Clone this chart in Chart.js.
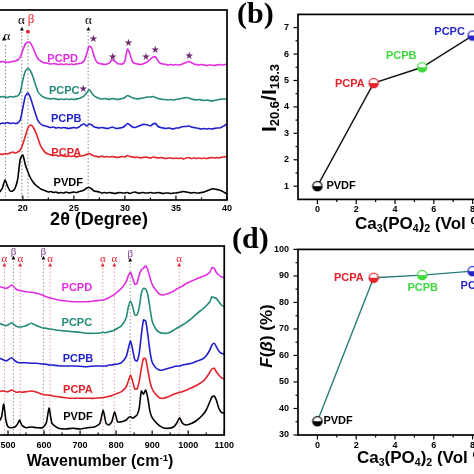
<!DOCTYPE html>
<html>
<head>
<meta charset="utf-8">
<script src="https://cdn.jsdelivr.net/npm/chart.js@4.4.1/dist/chart.umd.min.js"></script>
<style>
  html, body { margin: 0; padding: 0; background: #fff; }
  body { width: 474px; height: 474px; position: relative; overflow: hidden; font-family: "Liberation Sans", Arial, sans-serif; }
  canvas { position: absolute; }
  .t { position: absolute; font-weight: bold; color: #000; white-space: nowrap; line-height: 1; }
  .lt { font-family: "Liberation Serif", "Times New Roman", serif; font-size: 30px; }
  sub { font-size: 0.62em; vertical-align: -0.3em; line-height: 0; }
  sup { font-size: 0.6em; vertical-align: 0.55em; line-height: 0; }
</style>
</head>
<body>
<canvas id="xrdChart" width="257" height="220" style="left:-18px;top:0"></canvas>
<canvas id="ratioChart" width="300" height="226" style="left:230px;top:0"></canvas>
<canvas id="ramanChart" width="249" height="222" style="left:-10px;top:235px"></canvas>
<canvas id="fractionChart" width="300" height="225" style="left:230px;top:235px"></canvas>

<div class="t" style="left:99px;top:219px;font-size:18px;transform:translate(-50%,-50%)">2θ (Degree)</div>
<div class="t" style="left:100px;top:461px;font-size:16px;transform:translate(-50%,-50%)">Wavenumber (cm<sup>-1</sup>)</div>
<div class="t" style="left:355px;top:223px;font-size:17px;transform:translateY(-50%)">Ca<sub>3</sub>(PO<sub>4</sub>)<sub>2</sub> (Vol %)</div>
<div class="t" style="left:357px;top:457px;font-size:17px;transform:translateY(-50%)">Ca<sub>3</sub>(PO<sub>4</sub>)<sub>2</sub> (Vol %)</div>
<div class="t" style="left:268px;top:98px;font-size:21px;transform:translate(-50%,-50%) rotate(-90deg)">I<sub>20.6</sub>/I<sub>18.3</sub></div>
<div class="t" style="left:266px;top:336px;font-size:17px;transform:translate(-50%,-50%) rotate(-90deg)"><i>F</i>(<i>β</i>) (%)</div>
<div class="t lt" style="left:237px;top:-2px">(b)</div>
<div class="t lt" style="left:232px;top:223px">(d)</div>

<script>
// ---- (a) XRD ----
var xrdAngles = [
  17.75, 18, 18.25, 18.5, 18.75, 19, 19.25, 19.5, 19.75, 20,
  20.25, 20.5, 20.75, 21, 21.25, 21.5, 21.75, 22, 22.25, 22.5,
  22.75, 23, 23.25, 23.5, 23.75, 24, 24.25, 24.5, 24.75, 25,
  25.25, 25.5, 25.75, 26, 26.25, 26.5, 26.75, 27, 27.25, 27.5,
  27.75, 28, 28.25, 28.5, 28.75, 29, 29.25, 29.5, 29.75, 30,
  30.25, 30.5, 30.75, 31, 31.25, 31.5, 31.75, 32, 32.25, 32.5,
  32.75, 33, 33.25, 33.5, 33.75, 34, 34.25, 34.5, 34.75, 35,
  35.25, 35.5, 35.75, 36, 36.25, 36.5, 36.75, 37, 37.25, 37.5,
  37.75, 38, 38.25, 38.5, 38.75, 39, 39.25, 39.5, 39.75, 40
];
var xrdPVDF = [
  8, 12, 20, 14, 9, 9, 12, 21, 41, 45,
  35, 28, 22, 18, 15, 13, 11, 10, 9, 8,
  8.5, 7.5, 8, 7, 7.5, 7, 8, 7, 7.5, 8,
  7.5, 8.5, 9, 10, 12, 12.5, 11, 9, 8.5, 8,
  7, 7.5, 7, 7.5, 7, 6.5, 7, 7.5, 7, 7,
  7.5, 6.5, 7.5, 8, 7, 7, 7.5, 7, 7, 7.5,
  7, 7, 7.5, 7, 6.5, 7, 7, 6.5, 7, 7,
  7.5, 8, 8.5, 8, 7.5, 7, 7.5, 7, 7, 7.5,
  8, 9, 10, 11, 11, 10.5, 10, 9, 7.5, 6
];
var xrdPCPA = [
  46, 45.5, 46.5, 46, 47, 48, 47, 48, 50, 56,
  64, 72, 75, 73, 68, 61, 54, 50, 47, 46,
  45, 44.5, 45, 44, 44.5, 44, 43.5, 44, 43.5, 44,
  43, 44, 44, 44.5, 45.5, 46.5, 45, 44, 43.5, 43,
  44, 43, 43.5, 43, 43.5, 43, 42.5, 43, 43.5, 43,
  44.5, 43.5, 43, 42.5, 43, 42, 42.5, 43, 42.5, 42,
  43, 42.5, 42, 42.5, 42, 41.5, 42, 42, 41.5, 42,
  41.5, 42, 41, 42, 42.5, 41.5, 42, 41.5, 42, 41.5,
  42, 41.5, 42, 42.5, 42, 42.5, 42, 43, 43, 43.5
];
var xrdPCPB = [
  76, 77, 76.5, 77.5, 76.5, 77, 76.5, 77, 80, 92,
  104, 107, 102, 94, 86, 79, 76, 74.5, 74, 73,
  72.5, 73, 72, 72.5, 72, 72.5, 72, 71.5, 72, 72.5,
  72, 73, 75, 76, 74, 76, 75, 73, 72.5, 72,
  72.5, 72, 71.5, 72, 73, 72, 71.5, 72, 72.5, 74,
  76.5, 75, 73, 72.5, 73.5, 74.5, 75.5, 75.5, 75, 74,
  76, 76.5, 73.5, 72.5, 72, 71.5, 72, 71.5, 71, 72,
  72, 73, 73.5, 73.5, 74, 73, 72.5, 72, 71.5, 71,
  71.5, 71, 71.5, 71, 71.5, 72, 72, 73, 74.5, 76
];
var xrdPCPC = [
  103, 103.5, 103, 102.5, 103.5, 103, 103.5, 104, 108, 120,
  129, 131.5, 129, 123, 115, 108, 105, 103, 102, 101.5,
  101, 101.5, 101, 100.5, 101, 100.5, 101, 100.5, 101, 100.5,
  101, 101.5, 102.5, 104, 107, 110.5, 107, 104, 102.5, 101.5,
  101, 101.5, 101, 100.5, 101.5, 101, 100.5, 101, 101.5, 102.5,
  104.5, 103.5, 102, 101.5, 101, 101.5, 102, 102.5, 103, 103,
  103.5, 102.5, 101.5, 101, 100.5, 100.5, 100, 100.5, 100, 100.5,
  101, 101.5, 102, 102.5, 102, 101, 100.5, 100, 100.5, 100,
  99.5, 100, 99.5, 99, 99.5, 100, 100.5, 101, 101, 101
];
var xrdPCPD = [
  138, 138.5, 138, 137.5, 138, 138.5, 139, 140, 143, 150,
  156, 158, 157, 152, 146, 141, 139, 137.5, 137, 136.5,
  136, 136.5, 136, 135.5, 136, 135.5, 136, 135.5, 136, 135.5,
  136, 136.5, 137, 139, 146, 154, 152, 143, 138, 136.5,
  136, 135.5, 136, 137, 140.5, 139, 136.5, 136, 136, 139,
  151, 146, 138, 136.5, 136, 135.5, 136, 137, 138.5, 141,
  143, 143, 139, 136.5, 136, 135.5, 135, 135.5, 135, 135.5,
  135, 135.5, 136.5, 137.5, 138.5, 137.5, 136, 135.5, 135, 135.5,
  135, 134.5, 135, 135, 134.5, 135, 135.5, 135, 135.5, 135.5
];
var thetaTicks = [20, 25, 30, 35, 40];
var thetaMinorTicks = [17.5, 22.5, 27.5, 32.5, 37.5];

// ---- (c) Raman / IR ----
var ramanWavenumbers = [
  476, 482, 488, 494, 500, 510, 520, 526,
  532, 538, 550, 565, 580, 595, 606, 614,
  622, 640, 660, 680, 700, 720, 740, 755,
  764, 772, 780, 788, 796, 804, 815, 828,
  834, 840, 846, 852, 858, 864, 870, 876,
  882, 888, 894, 900, 910, 920, 930, 945,
  960, 968, 976, 984, 995, 1010, 1025, 1040,
  1050, 1060, 1066, 1072, 1078, 1085, 1092, 1100
];
var ramanPVDF = [
  14, 18, 31, 15, 8.3, 7.3, 8.3, 10.7,
  15, 10, 7.3, 8, 7.3, 7.3, 11.7, 27.3,
  11.7, 6.7, 6, 6.7, 6, 7.3, 8, 11.7,
  25, 11.7, 10, 13.3, 23.3, 13.3, 13.3, 15,
  17.3, 18.3, 16.7, 18.3, 20, 26.7, 44, 40.7,
  45, 36.7, 23.3, 17.3, 12.7, 9.3, 7.3, 6.7,
  8.3, 11.7, 17.3, 11.7, 10, 11.7, 15, 20,
  25, 33.3, 38.3, 39, 35, 26.7, 22.7, 21.7
];
var ramanPCPA = [
  43.3, 44, 44, 43.3, 43.3, 45, 43.3, 42.7,
  43.3, 42.7, 43.3, 44, 42.7, 40.7, 40, 40,
  39.3, 38.3, 37.3, 36.7, 36.7, 36.7, 36.7, 37.3,
  37.3, 38, 38.7, 39.3, 40.7, 41.7, 43.3, 48.3,
  54, 60, 53.3, 46, 46, 53.3, 66.7, 76.7,
  76, 65, 53.3, 46, 40.7, 37.3, 36.7, 38.3,
  40.7, 41.7, 42.7, 43.3, 45, 47.3, 50, 53.3,
  57.3, 62.7, 66, 66.7, 63.3, 60, 57.3, 56
];
var ramanPCPB = [
  76.7, 76, 75, 74, 75, 77.3, 74, 72.7,
  72.3, 72.3, 72.3, 71.7, 71.7, 71, 70.7, 70,
  70, 69.3, 69, 69, 68.7, 68.3, 69, 69,
  69, 69, 70, 70, 70.7, 71, 72.3, 78.3,
  86.7, 94, 85, 75, 74, 81.7, 100, 115,
  114, 100, 83.3, 72.7, 67.3, 65, 65, 66.7,
  68.3, 69, 69, 70, 70.7, 71.7, 74, 76,
  79.3, 85, 90, 91.7, 88.3, 84, 81.7, 80.7
];
var ramanPCPC = [
  111.7, 110.7, 110, 109.3, 110, 112.3, 109.3, 108.3,
  108, 108.3, 109.3, 111.7, 109.3, 107.3, 106.7, 106,
  105.7, 104.7, 104, 103.3, 102.7, 101.7, 101.7, 102,
  102.7, 102.3, 103.3, 104, 105, 106.7, 109.3, 117.3,
  128.3, 134, 128.3, 120, 120, 127.3, 141.7, 146.7,
  146, 140, 126.7, 114, 106, 102.7, 101.7, 102,
  105, 106.7, 108.3, 110, 112.7, 116.7, 121.7, 126,
  129.3, 133.3, 138.3, 137.3, 136.7, 133.3, 130, 128.3
];
var ramanPCPD = [
  148.3, 147.7, 147.3, 146.7, 147.3, 150, 146.7, 145,
  144.7, 144, 143.3, 142.7, 141.7, 140, 138.3, 137.3,
  136.7, 135, 134, 133.3, 133.3, 133.3, 134, 134.7,
  135, 136, 137.3, 139, 140.7, 143.3, 146.7, 153.3,
  159.3, 162.7, 156.7, 150.7, 151.7, 160, 165, 166.7,
  169.3, 165, 157.3, 150.7, 145, 141, 140, 141.5,
  144, 146, 147.5, 149, 151.5, 154, 156.5, 158.5,
  160, 162.7, 167.3, 166.7, 162.7, 160, 158.3, 157.3
];
var waveTicks = [500, 600, 700, 800, 900, 1000, 1100];
var waveMinorTicks = [550, 650, 750, 850, 950, 1050];

// ---- (b) and (d) ----
var sampleNames = ['PVDF', 'PCPA', 'PCPB', 'PCPC'];
var fillerVol = [0, 2.9, 5.4, 8.0];
var intensityRatio = [1.0, 4.9, 5.5, 6.7];
var betaFraction = [35.2, 89.3, 90.3, 91.8];
var volTicks = [0, 2, 4, 6, 8, 10];
var volMinorTicks = [1, 3, 5, 7, 9];
var ratioTicks = [1, 2, 3, 4, 5, 6, 7];
var ratioMinorTicks = [1.5, 2.5, 3.5, 4.5, 5.5, 6.5];
var fractionTicks = [30, 40, 50, 60, 70, 80, 90, 100];
var fractionMinorTicks = [35, 45, 55, 65, 75, 85, 95];

var MAGENTA = '#e22de4';
var TEAL = '#248a78';
var BLUE = '#1f1fcc';
var RED = '#e5212a';
var GREEN = '#3fd83f';
var STAR = '#6e2a6e';
var spectrumColors = ['#000', RED, BLUE, TEAL, MAGENTA];
var sampleColors = ['#000', RED, GREEN, '#2626c6'];

Chart.defaults.font.family = '"Liberation Sans", Arial, sans-serif';
Chart.defaults.font.weight = 'bold';
Chart.defaults.font.size = 9;
Chart.defaults.color = '#000';
Chart.defaults.animation = false;

function fixedTicks(values) {
  return function (scale) {
    scale.ticks = values.map(function (v) { return { value: v }; });
  };
}

function toPoints(xs, ys) {
  return ys.map(function (y, i) { return { x: xs[i], y: y }; });
}

function halfDot(color) {
  var c = document.createElement('canvas');
  c.width = 12;
  c.height = 12;
  var g = c.getContext('2d');
  g.beginPath();
  g.arc(6, 6, 4.6, 0, Math.PI * 2);
  g.fillStyle = '#fff';
  g.fill();
  g.beginPath();
  g.arc(6, 6, 4.6, 0, Math.PI);
  g.closePath();
  g.fillStyle = color;
  g.fill();
  g.beginPath();
  g.arc(6, 6, 4.6, 0, Math.PI * 2);
  g.lineWidth = 1.3;
  g.strokeStyle = color;
  g.stroke();
  return c;
}

// box, ticks, guide lines and notes
var framePlugin = {
  id: 'frame',
  beforeDatasetsDraw: function (chart, args, opts) {
    var ctx = chart.ctx, area = chart.chartArea, sx = chart.scales.x, sy = chart.scales.y;
    ctx.save();
    ctx.lineWidth = 1;
    ctx.setLineDash([1.5, 2]);
    (opts.guides || []).forEach(function (g) {
      var px = sx.getPixelForValue(g.x);
      ctx.strokeStyle = g.color;
      ctx.beginPath();
      ctx.moveTo(px, sy.getPixelForValue(g.from));
      ctx.lineTo(px, area.bottom);
      ctx.stroke();
    });
    ctx.restore();
  },
  afterDatasetsDraw: function (chart, args, opts) {
    var ctx = chart.ctx, a = chart.chartArea, sx = chart.scales.x, sy = chart.scales.y;
    var dir = opts.inward ? -1 : 1;
    ctx.save();
    ctx.strokeStyle = '#000';
    ctx.lineWidth = 1.7;
    ctx.strokeRect(a.left, a.top, a.right - a.left, a.bottom - a.top);
    ctx.lineWidth = 1.2;
    function xTick(v, len) {
      var p = sx.getPixelForValue(v);
      ctx.beginPath();
      ctx.moveTo(p, a.bottom);
      ctx.lineTo(p, a.bottom + dir * len);
      ctx.stroke();
    }
    function yTick(v, len) {
      var p = sy.getPixelForValue(v);
      ctx.beginPath();
      ctx.moveTo(a.left, p);
      ctx.lineTo(a.left - dir * len, p);
      ctx.stroke();
    }
    (opts.xMajor || []).forEach(function (v) { xTick(v, 4.5); });
    (opts.xMinor || []).forEach(function (v) { xTick(v, 2.5); });
    (opts.yMajor || []).forEach(function (v) { yTick(v, 4.5); });
    (opts.yMinor || []).forEach(function (v) { yTick(v, 2.5); });

    ctx.textBaseline = 'middle';
    (opts.notes || []).forEach(function (n) {
      ctx.font = n.font;
      ctx.fillStyle = n.color;
      ctx.textAlign = n.align || 'center';
      ctx.fillText(n.text, sx.getPixelForValue(n.x), sy.getPixelForValue(n.y));
    });
    var meta = chart.getDatasetMeta(0);
    (opts.pointLabels || []).forEach(function (n) {
      var pt = meta.data[n.index];
      ctx.font = 'bold 11px "Liberation Sans", Arial, sans-serif';
      ctx.fillStyle = n.color;
      ctx.textAlign = n.align;
      ctx.fillText(n.text, pt.x + n.dx, pt.y + n.dy);
    });
    ctx.restore();
  }
};

var LABEL_FONT = 'bold 11px "Liberation Sans", Arial, sans-serif';
var GREEK_A = '13px "Liberation Serif", serif';
var GREEK_C = '11px "Liberation Serif", serif';
var STAR_FONT = '10px "DejaVu Sans", sans-serif';
var ARROW_FONT = '5px "DejaVu Sans", sans-serif';

function spectrumDatasets(xs, series) {
  return series.map(function (ys, i) {
    return {
      data: toPoints(xs, ys),
      borderColor: spectrumColors[i],
      borderWidth: 1.6,
      pointRadius: 0,
      tension: 0.2
    };
  });
}

// (a)
new Chart(document.getElementById('xrdChart'), {
  type: 'line',
  data: { datasets: spectrumDatasets(xrdAngles, [xrdPVDF, xrdPCPA, xrdPCPB, xrdPCPC, xrdPCPD]) },
  options: {
    responsive: false,
    animation: false,
    layout: { padding: { left: 0, right: 12, top: 10, bottom: 4 } },
    plugins: {
      legend: { display: false },
      tooltip: { enabled: false },
      frame: {
        inward: true,
        xMajor: thetaTicks,
        xMinor: thetaMinorTicks,
        guides: [
          { x: 18.3, from: 155, color: '#8a8a8a' },
          { x: 19.9, from: 168, color: '#8a8a8a' },
          { x: 20.5, from: 165, color: '#8a8a8a' },
          { x: 26.4, from: 168, color: '#8a8a8a' }
        ],
        notes: [
          { x: 23.9, y: 141, text: 'PCPD', color: MAGENTA, font: LABEL_FONT },
          { x: 24.05, y: 109.3, text: 'PCPC', color: TEAL, font: LABEL_FONT },
          { x: 24.25, y: 81, text: 'PCPB', color: BLUE, font: LABEL_FONT },
          { x: 24.25, y: 47.3, text: 'PCPA', color: RED, font: LABEL_FONT },
          { x: 24.45, y: 17, text: 'PVDF', color: '#000', font: LABEL_FONT },
          { x: 19.85, y: 179, text: 'α', color: '#000', font: GREEK_A },
          { x: 19.9, y: 171.5, text: '▲', color: '#000', font: ARROW_FONT },
          { x: 20.8, y: 180, text: 'β', color: RED, font: GREEK_A },
          { x: 20.5, y: 168, text: '●', color: RED, font: ARROW_FONT },
          { x: 26.43, y: 179, text: 'α', color: '#000', font: GREEK_A },
          { x: 26.43, y: 171.5, text: '▲', color: '#000', font: ARROW_FONT },
          { x: 18.45, y: 163, text: 'α', color: '#000', font: GREEK_A },
          { x: 18.15, y: 161, text: '▲', color: '#000', font: ARROW_FONT },
          { x: 26.92, y: 160.7, text: '★', color: STAR, font: STAR_FONT },
          { x: 28.81, y: 142.7, text: '★', color: STAR, font: STAR_FONT },
          { x: 30.35, y: 156.7, text: '★', color: STAR, font: STAR_FONT },
          { x: 32.06, y: 142.7, text: '★', color: STAR, font: STAR_FONT },
          { x: 32.97, y: 149.3, text: '★', color: STAR, font: STAR_FONT },
          { x: 36.3, y: 143.3, text: '★', color: STAR, font: STAR_FONT },
          { x: 25.91, y: 111, text: '★', color: STAR, font: STAR_FONT }
        ]
      }
    },
    scales: {
      x: {
        type: 'linear', min: 16, max: 40,
        grid: { display: false, drawTicks: false },
        border: { display: false },
        afterBuildTicks: fixedTicks(thetaTicks),
        ticks: { padding: 3, autoSkip: false, maxRotation: 0 },
        afterFit: function (s) { s.height = 16; }
      },
      y: { display: false, min: 0, max: 190 }
    }
  },
  plugins: [framePlugin]
});

// (c)
var alphaLine = '#e0a0a0';
var betaLine = '#9a9a9a';
new Chart(document.getElementById('ramanChart'), {
  type: 'line',
  data: { datasets: spectrumDatasets(ramanWavenumbers, [ramanPVDF, ramanPCPA, ramanPCPB, ramanPCPC, ramanPCPD]) },
  options: {
    responsive: false,
    animation: false,
    layout: { padding: { left: 0, right: 12, top: 11, bottom: 6 } },
    plugins: {
      legend: { display: false },
      tooltip: { enabled: false },
      frame: {
        inward: true,
        xMajor: waveTicks,
        xMinor: waveMinorTicks,
        guides: [
          { x: 490, from: 167, color: alphaLine },
          { x: 515, from: 174, color: betaLine },
          { x: 534, from: 167, color: alphaLine },
          { x: 598, from: 174, color: betaLine },
          { x: 617, from: 167, color: alphaLine },
          { x: 763, from: 167, color: alphaLine },
          { x: 795, from: 167, color: alphaLine },
          { x: 839, from: 172, color: betaLine },
          { x: 975, from: 167, color: alphaLine }
        ],
        notes: [
          { x: 691, y: 147, text: 'PCPD', color: MAGENTA, font: LABEL_FONT },
          { x: 691, y: 112, text: 'PCPC', color: TEAL, font: LABEL_FONT },
          { x: 694, y: 76, text: 'PCPB', color: BLUE, font: LABEL_FONT },
          { x: 694, y: 45, text: 'PCPA', color: RED, font: LABEL_FONT },
          { x: 694, y: 18, text: 'PVDF', color: '#000', font: LABEL_FONT },
          { x: 490, y: 176, text: 'α', color: RED, font: GREEK_C },
          { x: 490, y: 170, text: '▲', color: RED, font: ARROW_FONT },
          { x: 515, y: 183, text: 'β', color: '#7a3a8a', font: GREEK_C },
          { x: 515, y: 177, text: '▲', color: '#000', font: ARROW_FONT },
          { x: 534, y: 176, text: 'α', color: RED, font: GREEK_C },
          { x: 534, y: 170, text: '▲', color: RED, font: ARROW_FONT },
          { x: 598, y: 183, text: 'β', color: '#7a3a8a', font: GREEK_C },
          { x: 598, y: 177, text: '▲', color: '#000', font: ARROW_FONT },
          { x: 617, y: 176, text: 'α', color: RED, font: GREEK_C },
          { x: 617, y: 170, text: '▲', color: RED, font: ARROW_FONT },
          { x: 763, y: 176, text: 'α', color: RED, font: GREEK_C },
          { x: 763, y: 170, text: '▲', color: RED, font: ARROW_FONT },
          { x: 795, y: 176, text: 'α', color: RED, font: GREEK_C },
          { x: 795, y: 170, text: '▲', color: RED, font: ARROW_FONT },
          { x: 839, y: 181, text: 'β', color: '#7a3a8a', font: GREEK_C },
          { x: 839, y: 175, text: '▲', color: '#000', font: ARROW_FONT },
          { x: 975, y: 176, text: 'α', color: RED, font: GREEK_C },
          { x: 975, y: 170, text: '▲', color: RED, font: ARROW_FONT }
        ]
      }
    },
    scales: {
      x: {
        type: 'linear', min: 450, max: 1100,
        grid: { display: false, drawTicks: false },
        border: { display: false },
        afterBuildTicks: fixedTicks(waveTicks),
        ticks: { padding: 5, autoSkip: false, maxRotation: 0, callback: function (v) { return String(v); } },
        afterFit: function (s) { s.height = 16; }
      },
      y: { display: false, min: 0, max: 189 }
    }
  },
  plugins: [framePlugin]
});

function sampleChart(id, values, lineColor, yMin, yMax, yTicks, yMinor, padTop, padBottom, labels) {
  return new Chart(document.getElementById(id), {
    type: 'line',
    data: {
      datasets: [{
        data: toPoints(fillerVol, values),
        borderColor: lineColor,
        borderWidth: 1.4,
        pointStyle: sampleColors.map(halfDot),
        pointRadius: 5,
        tension: 0
      }]
    },
    options: {
      responsive: false,
      animation: false,
      layout: { padding: { left: 8, right: 18.6, top: padTop, bottom: padBottom } },
      plugins: {
        legend: { display: false },
        tooltip: { enabled: false },
        frame: {
          inward: false,
          xMajor: volTicks,
          xMinor: volMinorTicks,
          yMajor: yTicks,
          yMinor: yMinor,
          pointLabels: labels
        }
      },
      scales: {
        x: {
          type: 'linear', min: -1, max: 10,
          grid: { display: false, drawTicks: false },
          border: { display: false },
          afterBuildTicks: fixedTicks(volTicks),
          ticks: { padding: 5, autoSkip: false, maxRotation: 0 },
          afterFit: function (s) { s.height = 20; }
        },
        y: {
          type: 'linear', min: yMin, max: yMax,
          grid: { display: false, drawTicks: false },
          border: { display: false },
          afterBuildTicks: fixedTicks(yTicks),
          ticks: { padding: 9, autoSkip: false },
          afterFit: function (s) { s.width = 60; }
        }
      }
    },
    plugins: [framePlugin]
  });
}

// (b)
sampleChart('ratioChart', intensityRatio, '#111', 0.5, 7.5, ratioTicks, ratioMinorTicks, 11.6, 6.6, [
  { index: 0, text: sampleNames[0], color: '#000', align: 'left', dx: 9, dy: 0 },
  { index: 1, text: sampleNames[1], color: RED, align: 'right', dx: -9, dy: 0.5 },
  { index: 2, text: sampleNames[2], color: GREEN, align: 'center', dx: -21, dy: -11.5 },
  { index: 3, text: sampleNames[3], color: '#2626c6', align: 'center', dx: -23, dy: -4 }
]);

// (d)
sampleChart('fractionChart', betaFraction, '#2a7c7c', 30, 100, fractionTicks, fractionMinorTicks, 13, 5, [
  { index: 0, text: sampleNames[0], color: '#000', align: 'left', dx: 6, dy: 0 },
  { index: 1, text: sampleNames[1], color: RED, align: 'right', dx: -10, dy: 0 },
  { index: 2, text: sampleNames[2], color: GREEN, align: 'center', dx: 0.5, dy: 13 },
  { index: 3, text: sampleNames[3], color: '#2626c6', align: 'left', dx: -12, dy: 14.5 }
]);
</script>
</body>
</html>
